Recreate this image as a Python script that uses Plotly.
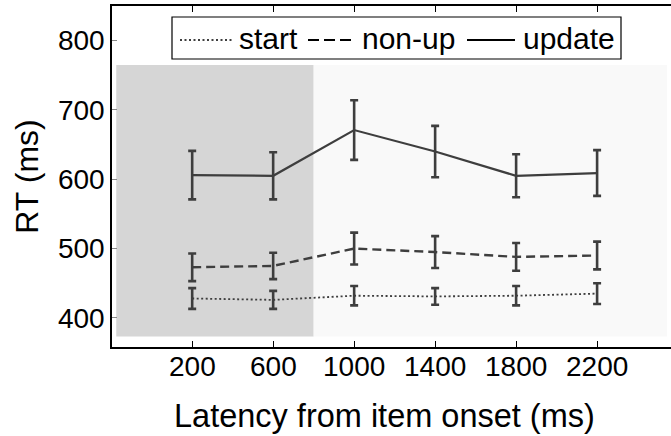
import plotly.graph_objects as go

# Latency bins (ms) and mean reaction times with error bars
latency = [200, 600, 1000, 1400, 1800, 2200]
update_rt = [606, 605, 671, 640, 605, 609]
update_err = [35, 34, 43, 37, 31, 33]
nonup_rt = [473, 475, 500, 495, 488, 490]
nonup_err = [20, 19, 23, 23, 20, 20]
start_rt = [428, 426, 432, 431, 432, 435]
start_err = [15, 13, 14, 12, 14, 15]

series_names = ["start", "non-up", "update"]
x_ticks = [200, 600, 1000, 1400, 1800, 2200]
y_ticks = [400, 500, 600, 700, 800]

LINE = "#3e3e3e"
FONT = "Liberation Sans, Arial, sans-serif"
DASHES = {"start": "2px,2.5px", "non-up": "9px,5px", "update": "solid"}
WIDTHS = {"start": 1.8, "non-up": 2.4, "update": 2.2}

# plot-area geometry in pixels, used to place legend and x labels
L, R, T, B = 112, 671, 6, 347
def px_x(p):
    return (p - L) / (R - L)
def px_y(p):
    return (B - p) / (B - T)

fig = go.Figure()

for name, y, err in [("start", start_rt, start_err),
                     ("non-up", nonup_rt, nonup_err),
                     ("update", update_rt, update_err)]:
    fig.add_trace(go.Scatter(
        x=latency, y=y, name=name, mode="lines", showlegend=False,
        line=dict(color=LINE, width=WIDTHS[name], dash=DASHES[name]),
        error_y=dict(type="data", array=err, visible=True,
                     color=LINE, thickness=2.6, width=4),
    ))

# Shaded epochs: early window in grey, later window very light
fig.add_shape(type="rect", xref="x", yref="y", x0=-175, x1=800, y0=373, y1=765,
              fillcolor="#d6d6d6", line_width=0, layer="below")
fig.add_shape(type="rect", xref="x", yref="y", x0=800, x1=2545, y0=373, y1=765,
              fillcolor="#f9f9f9", line_width=0, layer="below")

# Legend box with line samples and labels
fig.add_shape(type="rect", xref="paper", yref="paper",
              x0=px_x(172), x1=px_x(621), y0=px_y(59), y1=px_y(17),
              fillcolor="white", line=dict(color="black", width=1.2))
samples = [(180, 232, 237), (308, 356, 360), (467, 515, 521)]
for name, (s0, s1, tx) in zip(series_names, samples):
    fig.add_shape(type="line", xref="paper", yref="paper",
                  x0=px_x(s0), x1=px_x(s1), y0=px_y(40), y1=px_y(40),
                  line=dict(color="black", width=1.6 if name == "start" else 2,
                            dash=DASHES[name] if name != "non-up" else "11px,5px"))
    fig.add_annotation(xref="paper", yref="paper", x=px_x(tx), y=px_y(38),
                       xanchor="left", yanchor="middle", text=name, showarrow=False,
                       font=dict(size=30, family=FONT, color="black"))

# x tick labels set close under the axis line
for v in x_ticks:
    fig.add_annotation(xref="x", yref="paper", x=v, y=px_y(366),
                       xanchor="center", yanchor="middle", text=str(v), showarrow=False,
                       font=dict(size=28, family=FONT, color="black"))

# x axis title
fig.add_annotation(xref="paper", yref="paper", x=px_x(384), y=px_y(416),
                   xanchor="center", yanchor="middle", showarrow=False,
                   text="Latency from item onset (ms)",
                   font=dict(size=32.5, family=FONT, color="black"))

fig.update_layout(
    width=671, height=436,
    margin=dict(l=L, r=671 - R, t=T, b=436 - B),
    paper_bgcolor="white", plot_bgcolor="white",
    font=dict(family=FONT, color="black"),
    showlegend=False,
    xaxis=dict(
        range=[-196, 2565], tickvals=x_ticks, showticklabels=False,
        showgrid=False, zeroline=False,
        showline=True, linecolor="black", linewidth=1.5, mirror="ticks",
        ticks="inside", ticklen=6, tickcolor="black",
    ),
    yaxis=dict(
        range=[358, 850], tickvals=y_ticks, ticktext=[str(v) for v in y_ticks],
        showgrid=False, zeroline=False,
        showline=True, linecolor="black", linewidth=1.5,
        ticks="inside", ticklen=5, tickcolor="#888888",
        tickfont=dict(size=28, family=FONT),
        title=dict(text="RT (ms)", font=dict(size=32, family=FONT), standoff=10),
    ),
)

fig.write_html("out.html")
